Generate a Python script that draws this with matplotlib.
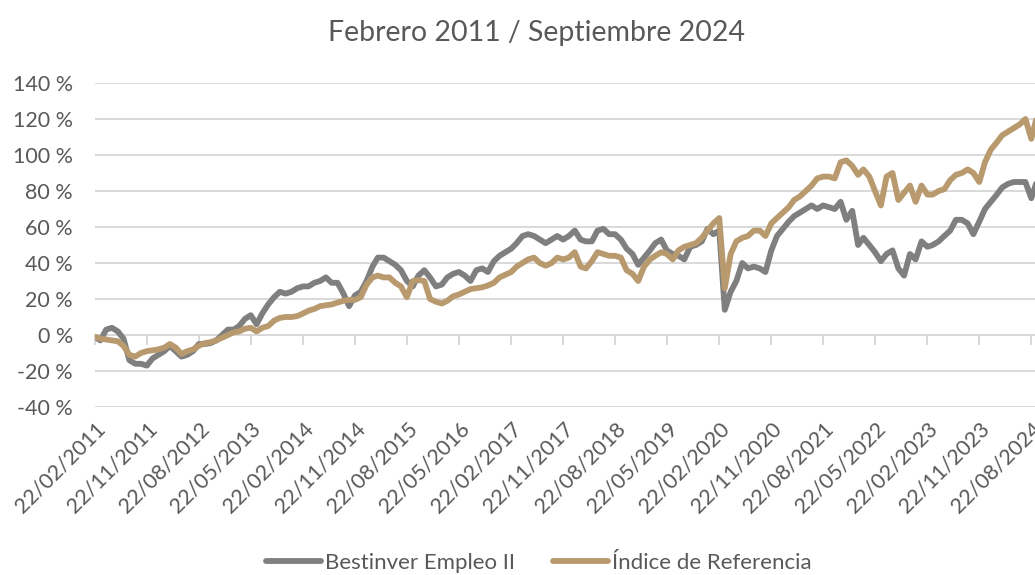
import numpy as np
import pandas as pd
import matplotlib
matplotlib.use("Agg")
import matplotlib.pyplot as plt
import matplotlib.dates as mdates

# monthly values (22nd of each month), Feb 2011 .. Sep 2024, in %
months = pd.date_range("2011-02-01", periods=164, freq="MS") + pd.Timedelta(days=21)

fondo = [
    -1, -3, 3, 4, 2, -2, -14, -16, -16, -17, -13, -11,
    -9, -6, -9, -12, -11, -9, -5, -5, -4.5, -3, 0, 3,
    3, 5, 9, 11, 6, 12, 17, 21, 24, 23, 24, 26,
    27, 27, 29, 30, 32, 29, 29, 23, 16, 22, 24, 30,
    38, 43, 43, 41, 39, 36, 30, 27, 33, 36, 32, 27,
    28, 32, 34, 35, 33, 30, 36, 37, 35, 41, 44, 46,
    48, 51, 55, 56, 55, 53, 51, 53, 55, 53, 55, 58,
    53, 52, 52, 58, 59, 56, 56, 53, 48, 45, 39, 43,
    47, 51, 53, 47, 45, 44, 42, 49, 50, 52, 59, 56,
    58, 14, 24, 30, 40, 37, 38, 37, 35, 47, 55, 59,
    63, 66, 68, 70, 72, 70, 72, 71, 70, 74, 64, 69,
    50, 54, 50, 46, 41, 45, 47, 37, 33, 45, 42, 52,
    49, 50, 52, 55, 58, 64, 64, 62, 56, 63, 70, 74,
    78, 82, 84, 85, 85, 85, 76, 86,
]

indice = [
    -1, -2, -2.5, -3, -3.5, -6, -11, -12, -10, -9, -8.5, -8,
    -7, -5, -7, -10.5, -9, -8, -6, -4.5, -4, -3, -1.5, 0,
    1.5, 2, 3.5, 4, 2, 4, 5, 8, 9.5, 10, 10, 10.5,
    12, 13.5, 14.5, 16, 16.5, 17, 18, 19, 19.5, 19.5, 21, 28,
    32, 33, 32, 32, 29, 27, 21, 30, 30.5, 30, 20, 18.5,
    17.5, 19, 21.5, 22.5, 24, 25.5, 26, 26.5, 27.5, 29, 32, 33.5,
    35, 38, 40, 42, 43, 40, 38.5, 40, 43, 42, 43, 46,
    38, 37, 41, 46, 45, 44, 44, 43, 36, 34, 30, 38,
    42, 44, 46, 45, 42, 47, 49, 50, 51, 54, 58, 62,
    65, 26, 45, 52, 54, 55, 58, 58, 55, 62, 65, 68,
    71, 75, 77, 80, 83, 87, 88, 88, 87, 96, 97, 94,
    89, 92, 88, 80, 72, 88, 90, 75, 79, 83, 74, 83,
    78, 78, 80, 81, 86, 89, 90, 92, 90, 85, 96, 103,
    107, 111, 113, 115, 117, 120, 109, 122,
]

series_names = ["Bestinver Empleo II", "Índice de Referencia"]
titulo = "Febrero 2011 / Septiembre 2024"

tick_dates = pd.date_range("2011-02-01", "2024-08-01", freq="9MS") + pd.Timedelta(days=21)
y_ticks = np.arange(-40, 141, 20)

GRAY = "#7F7F7F"
TAN = "#B89A6E"
TXT = "#595959"
GRID = "#D9D9D9"

plt.rcParams["font.family"] = ["Lato", "DejaVu Sans"]

fig = plt.figure(figsize=(10.35, 5.75), dpi=100)
ax = fig.add_axes([95 / 1035, 1 - 407 / 575, 942 / 1035, 324 / 575])

ax.plot(months, fondo, color=GRAY, lw=4.2, solid_capstyle="round", label=series_names[0], zorder=3)
ax.plot(months, indice, color=TAN, lw=4.2, solid_capstyle="round", label=series_names[1], zorder=4)

ax.set_ylim(-40, 140)
ax.set_xlim(pd.Timestamp("2011-02-22"), pd.Timestamp("2024-09-21"))
ax.set_yticks(y_ticks)
ax.set_yticklabels([f"{v} %" for v in y_ticks])
ax.yaxis.grid(True, color=GRID, lw=1.4)
ax.set_axisbelow(True)
for s in ax.spines.values():
    s.set_visible(False)
ax.tick_params(axis="y", length=0, pad=16, labelsize=15.5, labelcolor=TXT)

ax.set_xticks(tick_dates)
ax.set_xticklabels([d.strftime("%d/%m/%Y") for d in tick_dates], rotation=45,
                   ha="right", va="top", rotation_mode="anchor")
ax.tick_params(axis="x", length=0, pad=8, labelsize=15.5, labelcolor=TXT)

# small tick marks on the 0 % line
sec = ax.secondary_xaxis(40 / 180)
sec.set_xticks(mdates.date2num(tick_dates))
sec.set_xticklabels([])
sec.tick_params(length=7, width=1.4, color=GRID, direction="out")
sec.spines["bottom"].set_color(GRID)
sec.spines["bottom"].set_linewidth(1.4)

fig.text(536 / 1035, 1 - 33 / 575, titulo, ha="center", va="center", fontsize=20.5, color=TXT)

leg = fig.legend(loc="center", bbox_to_anchor=(539 / 1035, 1 - 563 / 575), ncol=2,
                 frameon=False, fontsize=16, handlelength=2.45, handletextpad=0.2,
                 columnspacing=1.7)
for t in leg.get_texts():
    t.set_color(TXT)

fig.savefig("out.png", dpi=100)
